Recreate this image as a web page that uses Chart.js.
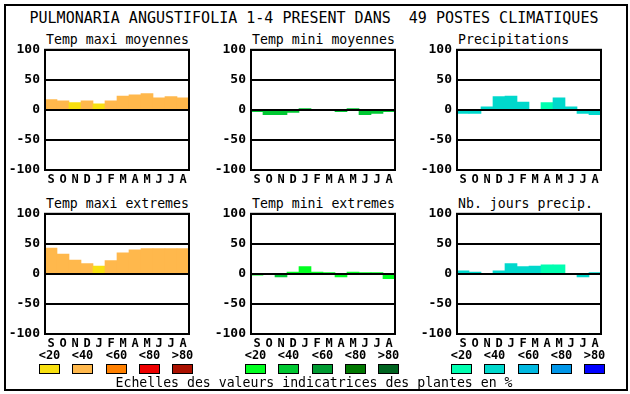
<!DOCTYPE html>
<html><head><meta charset="utf-8">
<script src="https://cdn.jsdelivr.net/npm/chart.js@4.4.0/dist/chart.umd.min.js"></script>
<style>
html,body{margin:0;padding:0;background:#fff;}
body{width:630px;height:394px;overflow:hidden;position:relative;font-family:"DejaVu Sans Mono",monospace;}
.abs{position:absolute;white-space:pre;color:#000;line-height:1;}
canvas{position:absolute;}
</style></head><body>
<script>
// ---------- data ----------
const months = ['S','O','N','D','J','F','M','A','M','J','J','A'];
const legendLabels = ['<20','<40','<60','<80','>80'];
const orangeScale = ['#f8e010','#ffb84c','#ff8000','#ee0000','#aa1100'];
const greenScale  = ['#00ff20','#00c832','#009b32','#007800','#006420'];
const blueScale   = ['#00ffb0','#00d8cc','#00b8e0','#0096e8','#0000ff'];
const mainTitle = 'PULMONARIA ANGUSTIFOLIA 1-4 PRESENT DANS  49 POSTES CLIMATIQUES';
const footNote = 'Echelles des valeurs indicatrices des plantes en %';

const tmaxMoyTitle = 'Temp maxi moyennes';
const tmaxMoy    = [17,15,12,15,10,15,23,25,27,20,22,20];
const tmaxMoyCls = [1,1,0,1,0,1,1,1,1,1,1,1];

const tminMoyTitle = 'Temp mini moyennes';
const tminMoy    = [-3,-8,-8,-4,2,0,0,-3,2,-8,-6,-3];
const tminMoyCls = [1,1,1,1,1,1,1,1,1,1,1,1];

const precTitle = 'Precipitations';
const prec    = [-6,-6,5,22,23,13,0,12,20,5,-6,-8];
const precCls = [1,1,1,1,1,1,1,0,1,1,1,1];

const tmaxExtTitle = 'Temp maxi extremes';
const tmaxExt    = [43,33,23,17,13,22,35,40,42,42,42,42];
const tmaxExtCls = [1,1,1,1,0,1,1,1,1,1,1,1];

const tminExtTitle = 'Temp mini extremes';
const tminExt    = [-2,0,-5,3,12,3,2,-5,3,2,2,-8];
const tminExtCls = [0,0,1,0,0,0,0,0,0,0,0,0];

const joursTitle = 'Nb. jours precip.';
const jours    = [5,3,0,5,17,12,13,15,15,0,-5,2];
const joursCls = [1,1,1,1,1,1,1,0,0,1,1,1];

// ---------- layout ----------
const panels = [
  {title:tmaxMoyTitle, values:tmaxMoy, cls:tmaxMoyCls, pal:orangeScale, x:45,  y:50},
  {title:tminMoyTitle, values:tminMoy, cls:tminMoyCls, pal:greenScale,  x:251, y:50},
  {title:precTitle,    values:prec,    cls:precCls,    pal:blueScale,   x:457, y:50},
  {title:tmaxExtTitle, values:tmaxExt, cls:tmaxExtCls, pal:orangeScale, x:45,  y:214},
  {title:tminExtTitle, values:tminExt, cls:tminExtCls, pal:greenScale,  x:251, y:214},
  {title:joursTitle,   values:jours,   cls:joursCls,   pal:blueScale,   x:457, y:214},
];
const PW = 144, PH = 120, YW = 40, PADT = 8, PADR = 4, XH = 20;

function addText(txt, css){
  const d = document.createElement('div');
  d.className = 'abs';
  d.textContent = txt;
  Object.assign(d.style, css);
  document.body.appendChild(d);
  return d;
}

// frame
const fr = document.createElement('div');
Object.assign(fr.style,{position:'absolute',left:'4px',top:'4px',width:'624px',height:'387px',border:'2px solid #000',boxSizing:'border-box'});
document.body.appendChild(fr);

addText(mainTitle,{left:'0px',width:'628px',textAlign:'center',top:'11px',fontSize:'15px'});

Chart.defaults.font.family = '"DejaVu Sans Mono", monospace';
Chart.defaults.color = '#000';

const framePlugin = {
  id:'frame',
  afterDraw(c){
    const {ctx, chartArea:a} = c;
    ctx.save();
    ctx.strokeStyle = '#000';
    ctx.lineWidth = 2;
    ctx.strokeRect(a.left, a.top, a.right - a.left, a.bottom - a.top);
    ctx.restore();
  }
};

panels.forEach(p => {
  addText(p.title,{left:(p.x+1)+'px',top:(p.y-17)+'px',fontSize:'13.2px'});
  const cv = document.createElement('canvas');
  let W = YW + PW + PADR, H = PADT + PH + XH;
  cv.width = W; cv.height = H;
  cv.style.width = W + 'px'; cv.style.height = H + 'px';
  document.body.appendChild(cv);
  const chart = new Chart(cv, {
    type:'bar',
    data:{
      labels: months,
      datasets:[{
        data: p.values,
        backgroundColor: p.cls.map(k => p.pal[k]),
        borderWidth: 0,
        barPercentage: 1,
        categoryPercentage: 1
      }]
    },
    options:{
      responsive:false,
      maintainAspectRatio:false,
      animation:false,
      devicePixelRatio:1,
      layout:{padding:{top:PADT,right:PADR,left:0,bottom:0}},
      plugins:{legend:{display:false},tooltip:{enabled:false},title:{display:false}},
      scales:{
        x:{
          grid:{display:false,drawTicks:false},
          border:{display:false},
          ticks:{font:{size:12,weight:'bold'},padding:3,maxRotation:0,autoSkip:false},
          afterFit(s){s.height = XH;}
        },
        y:{
          min:-100,max:100,
          grid:{color:'#000',lineWidth:2,drawTicks:false,z:1},
          border:{display:false},
          ticks:{stepSize:50,font:{size:13,weight:'bold'},padding:5},
          afterFit(s){s.width = YW;}
        }
      }
    },
    plugins:[framePlugin]
  });
  // make the plot area exactly PW x PH and align it to the panel position
  for (let k = 0; k < 3; k++) {
    const a = chart.chartArea;
    const dw = PW - (a.right - a.left), dh = PH - (a.bottom - a.top);
    if (Math.abs(dw) < 0.5 && Math.abs(dh) < 0.5) break;
    W += dw; H += dh;
    cv.style.width = Math.round(W) + 'px'; cv.style.height = Math.round(H) + 'px';
    chart.resize(Math.round(W), Math.round(H));
  }
  const a = chart.chartArea;
  cv.style.left = (p.x - a.left) + 'px';
  cv.style.top = (p.y - a.top) + 'px';
});

// legend
const groups = [orangeScale, greenScale, blueScale];
const offs = [0,33,67,100,133];
groups.forEach((pal, g) => {
  const gx = 39 + g*206;
  pal.forEach((col, i) => {
    const x = gx + offs[i];
    addText(legendLabels[i],{left:(x-5)+'px',width:'31px',textAlign:'center',top:'349px',fontSize:'12px',fontWeight:'bold'});
    const b = document.createElement('div');
    Object.assign(b.style,{position:'absolute',left:x+'px',top:'364px',width:'21px',height:'10px',background:col,border:'1px solid #000',boxSizing:'border-box'});
    document.body.appendChild(b);
  });
});
addText(footNote,{left:'0px',width:'628px',textAlign:'center',top:'376px',fontSize:'13.2px'});
</script>
</body></html>
